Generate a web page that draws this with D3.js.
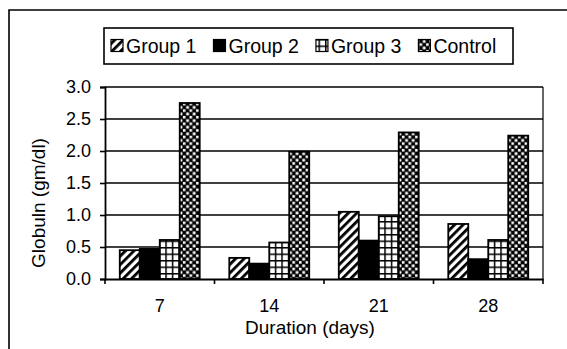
<!DOCTYPE html>
<html><head><meta charset="utf-8">
<script src="https://cdn.jsdelivr.net/npm/d3@7"></script>
<style>body{margin:0;background:#fff}svg{display:block}text{font-family:"Liberation Sans",Arial,sans-serif;fill:#000}</style>
</head><body><svg id="c" width="567" height="349"></svg>
<script>
const categories = ["7", "14", "21", "28"];
const seriesNames = ["Group 1", "Group 2", "Group 3", "Control"];
const group1 = [0.45, 0.33, 1.05, 0.86];
const group2 = [0.47, 0.24, 0.60, 0.31];
const group3 = [0.61, 0.57, 0.98, 0.61];
const control = [2.75, 1.99, 2.29, 2.24];
const yTicks = [0, 0.5, 1.0, 1.5, 2.0, 2.5, 3.0];
const yTitle = "Globuln (gm/dl)";
const xTitle = "Duration (days)";

const seriesValues = [group1, group2, group3, control];
const fills = ["url(#hatch)", "#000", "url(#grid)", "url(#checker)"];

const svg = d3.select("#c");
svg.append("rect").attr("width",567).attr("height",349).attr("fill","#fff");

// patterns
const defs = svg.append("defs");
const ph = defs.append("pattern").attr("id","hatch").attr("patternUnits","userSpaceOnUse")
  .attr("width",6).attr("height",6).attr("patternTransform","rotate(45)");
ph.append("rect").attr("width",6).attr("height",6).attr("fill","#fff");
ph.append("rect").attr("x",0).attr("width",2.8).attr("height",6).attr("fill","#000");

const pg = defs.append("pattern").attr("id","grid").attr("patternUnits","userSpaceOnUse")
  .attr("width",6.5).attr("height",6.5);
pg.append("rect").attr("width",6.5).attr("height",6.5).attr("fill","#fff");
pg.append("rect").attr("x",0).attr("y",0).attr("width",6.5).attr("height",1.5).attr("fill","#000");
pg.append("rect").attr("x",0).attr("y",0).attr("width",1.5).attr("height",6.5).attr("fill","#000");

const pc = defs.append("pattern").attr("id","checker").attr("patternUnits","userSpaceOnUse")
  .attr("width",6.6).attr("height",6.6);
pc.append("rect").attr("width",6.6).attr("height",6.6).attr("fill","#000");
pc.append("rect").attr("x",0.4).attr("y",0.4).attr("width",2.8).attr("height",2.8).attr("fill","#fff");
pc.append("rect").attr("x",3.7).attr("y",3.7).attr("width",2.6).attr("height",2.6).attr("fill","#fff");

// outer frame
svg.append("path").attr("d","M9,349 L9,10 L567,10").attr("fill","none").attr("stroke","#000").attr("stroke-width",1.6);

const L = 105, R = 543, T = 87, B = 279;
const x0 = d3.scaleBand().domain(categories).range([L, R]).paddingInner(0.27).paddingOuter(0.135);
const x1 = d3.scaleBand().domain(seriesNames).range([0, x0.bandwidth()]);
const y = d3.scaleLinear().domain([0, 3]).range([B, T]);

// gridlines
svg.append("g").selectAll("line").data(yTicks.slice(1)).join("line")
  .attr("x1", L).attr("x2", R).attr("y1", d => y(d)).attr("y2", d => y(d))
  .attr("stroke","#000").attr("stroke-width",1.6);
// right border
svg.append("line").attr("x1",R).attr("x2",R).attr("y1",T).attr("y2",B).attr("stroke","#000").attr("stroke-width",1.2);

// bars
const gCat = svg.append("g").selectAll("g").data(categories).join("g")
  .attr("transform", c => `translate(${x0(c)},0)`);
gCat.selectAll("rect").data((c, ci) => seriesNames.map((s, si) => ({s, si, v: seriesValues[si][ci]}))).join("rect")
  .attr("x", d => x1(d.s)).attr("width", x1.bandwidth())
  .attr("y", d => y(d.v)).attr("height", d => B - y(d.v))
  .attr("fill", d => fills[d.si]).attr("stroke","#000").attr("stroke-width",1.8);

// y axis
const yAxis = svg.append("g").attr("transform",`translate(${L},0)`)
  .call(d3.axisLeft(y).tickValues(yTicks).tickFormat(d3.format(".1f")).tickSize(5).tickPadding(9));
yAxis.select(".domain").attr("stroke","#000").attr("stroke-width",1.8);
yAxis.selectAll(".tick line").attr("stroke","#000").attr("stroke-width",1.6);
yAxis.selectAll("text").attr("font-size",18).attr("fill","#000").style("font-family","'Liberation Sans',Arial,sans-serif");

// x axis
const xAxis = svg.append("g").attr("transform",`translate(0,${B})`)
  .call(d3.axisBottom(x0).tickSize(0).tickPadding(20));
xAxis.select(".domain").attr("stroke","#000").attr("stroke-width",1.8);
xAxis.selectAll("text").attr("font-size",18).attr("fill","#000").style("font-family","'Liberation Sans',Arial,sans-serif");
// category boundary ticks
const bounds = d3.range(categories.length + 1).map(i => L + i * x0.step());
svg.append("g").selectAll("line").data(bounds).join("line")
  .attr("x1", d => d).attr("x2", d => d).attr("y1", B).attr("y2", B + 5)
  .attr("stroke","#000").attr("stroke-width",1.6);

// titles
svg.append("text").attr("transform","translate(45,203) rotate(-90)").attr("text-anchor","middle")
  .attr("font-size",19).text(yTitle);
svg.append("text").attr("x",310).attr("y",334).attr("text-anchor","middle")
  .attr("font-size",19).text(xTitle);

// legend
const lg = svg.append("g");
lg.append("rect").attr("x",104).attr("y",28).attr("width",409).attr("height",36)
  .attr("fill","#fff").attr("stroke","#000").attr("stroke-width",1.6);
let lx = 111;
seriesNames.forEach((s, i) => {
  lg.append("rect").attr("x", lx).attr("y", 39.5).attr("width", 12).attr("height", 12)
    .attr("fill", fills[i]).attr("stroke","#000").attr("stroke-width",1.2);
  const t = lg.append("text").attr("x", lx + 15).attr("y", 52.5).attr("font-size",19.5).text(s);
  lx += 15 + t.node().getComputedTextLength() + 17;
});
</script></body></html>
